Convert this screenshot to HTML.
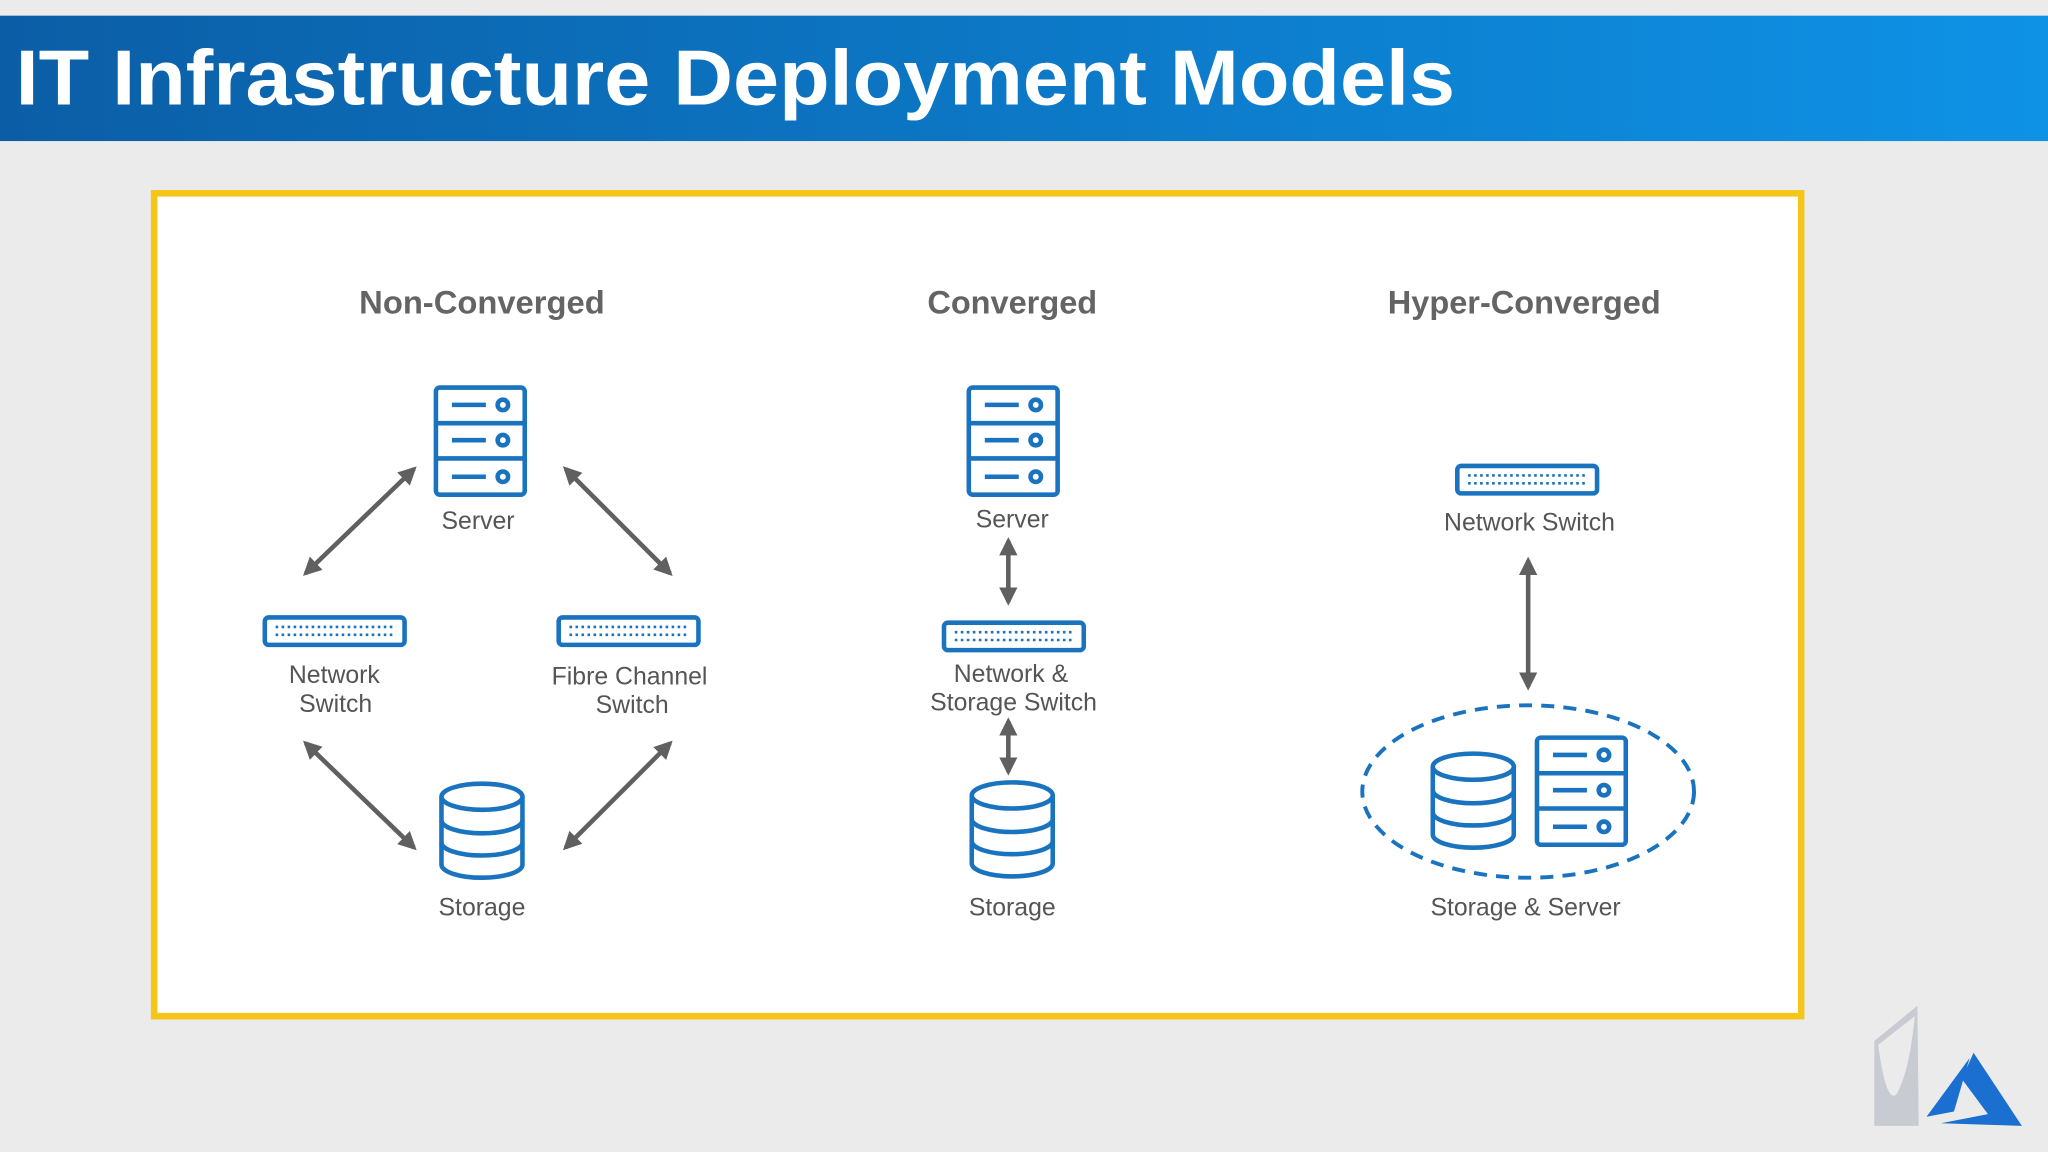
<!DOCTYPE html>
<html><head><meta charset="utf-8"><style>html,body{margin:0;padding:0;background:#ebebeb}svg{display:block}</style></head>
<body>
<svg width="2048" height="1152" viewBox="0 0 1568 882" xmlns="http://www.w3.org/2000/svg" font-family="Liberation Sans, sans-serif">
<defs>
<linearGradient id="g" x1="0" x2="1"><stop offset="0" stop-color="#0b5ea6"/><stop offset="1" stop-color="#0e92e6"/></linearGradient>
<marker id="ah" viewBox="0 0 10 10" refX="8" refY="5" markerWidth="4" markerHeight="4" orient="auto-start-reverse"><path d="M0,0L10,5L0,10z" fill="#606060"/></marker>
<g id="srv" fill="none" stroke="#1a73bf" stroke-width="3.5">
<rect x="1.75" y="1.75" width="68" height="82" rx="3"/>
<line x1="2" y1="29" x2="70" y2="29"/><line x1="2" y1="56" x2="70" y2="56"/>
<line x1="14" y1="15" x2="40" y2="15"/><circle cx="53" cy="15" r="4"/>
<line x1="14" y1="42" x2="40" y2="42"/><circle cx="53" cy="42" r="4"/>
<line x1="14" y1="70" x2="40" y2="70"/><circle cx="53" cy="70" r="4"/>
</g>
<g id="db" fill="#fff" stroke="#1a73bf" stroke-width="3.5">
<path d="M2,12 V64 A31,10 0 0 0 64,64 V12"/>
<path d="M2,30 A31,10 0 0 0 64,30 M2,47 A31,10 0 0 0 64,47" fill="none"/>
<ellipse cx="33" cy="12" rx="31" ry="10"/>
</g>
<g id="sw">
<rect x="1.75" y="1.75" width="107" height="21" rx="3" fill="none" stroke="#1a73bf" stroke-width="3.5"/>
<line x1="10" y1="9" x2="100" y2="9" stroke="#1a73bf" stroke-width="2" stroke-dasharray="2 2.6"/>
<line x1="10" y1="15" x2="100" y2="15" stroke="#1a73bf" stroke-width="2" stroke-dasharray="2 2.6"/>
</g>
</defs>
<rect width="1568" height="882" fill="#ebebeb"/>
<rect x="0" y="12" width="1568" height="96" fill="url(#g)"/>
<text x="12" y="80" font-size="60" font-weight="bold" fill="#fff" textLength="1102" lengthAdjust="spacingAndGlyphs">IT Infrastructure Deployment Models</text>
<rect x="118" y="148" width="1261" height="630" fill="#fff" stroke="#f5c518" stroke-width="5"/>
<g fill="#4a4a4a" font-size="25" text-anchor="middle" font-weight="bold" opacity="0.85">
<text x="369" y="240" textLength="188" lengthAdjust="spacingAndGlyphs">Non-Converged</text>
<text x="775" y="240" textLength="130" lengthAdjust="spacingAndGlyphs">Converged</text>
<text x="1167" y="240" textLength="209" lengthAdjust="spacingAndGlyphs">Hyper-Converged</text>
</g>
<use href="#srv" x="332" y="295"/>
<use href="#sw" x="201" y="471"/>
<use href="#sw" x="426" y="471"/>
<use href="#db" x="336" y="598"/>
<use href="#srv" x="740" y="295"/>
<use href="#sw" x="721" y="475"/>
<use href="#db" x="742" y="597"/>
<use href="#sw" x="1114" y="355"/>
<ellipse cx="1170" cy="606" rx="127" ry="66" fill="none" stroke="#1a73bf" stroke-width="3" stroke-dasharray="10 7"/>
<use href="#db" x="1095" y="575"/>
<use href="#srv" x="1175" y="563"/>
<g stroke="#606060" stroke-width="3.5" marker-start="url(#ah)" marker-end="url(#ah)">
<line x1="234" y1="439" x2="317" y2="359"/>
<line x1="433" y1="359" x2="513" y2="439"/>
<line x1="234" y1="569" x2="317" y2="649"/>
<line x1="433" y1="649" x2="513" y2="569"/>
<line x1="772" y1="414" x2="772" y2="461"/>
<line x1="772" y1="552" x2="772" y2="591"/>
<line x1="1170" y1="429" x2="1170" y2="526"/>
</g>
<g fill="#555" font-size="19" text-anchor="middle">
<text x="366" y="405">Server</text>
<text x="256" y="523">Network</text><text x="257" y="545">Switch</text>
<text x="482" y="524">Fibre Channel</text><text x="484" y="546">Switch</text>
<text x="369" y="701">Storage</text>
<text x="775" y="404">Server</text>
<text x="774" y="522">Network &amp;</text><text x="776" y="544">Storage Switch</text>
<text x="775" y="701">Storage</text>
<text x="1171" y="406">Network Switch</text>
<text x="1168" y="701">Storage &amp; Server</text>
</g>
<path d="M1435,797 L1468,770 L1469,862 L1435,862 Z" fill="#c8cbd1"/>
<path d="M1438,800 Q1444,845 1452,838 Q1462,820 1466,778" fill="#ebebeb"/>
<path d="M1475,855 L1508,810 L1496,851 Z M1511,806 L1548,862 L1486,860 L1522,853 L1502,826 Z" fill="#1a6fd0"/>
</svg>
</body></html>
